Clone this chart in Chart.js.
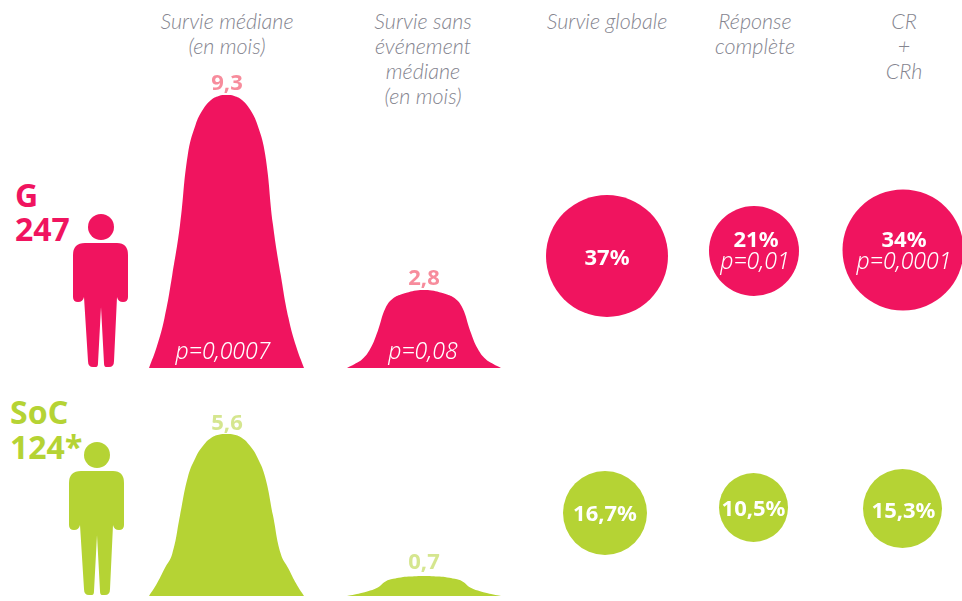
<!DOCTYPE html>
<html lang="fr">
<head>
<meta charset="utf-8">
<title>Survie et réponse</title>
<script src="https://cdn.jsdelivr.net/npm/chart.js@4"></script>
<style>
  html, body { margin: 0; padding: 0; background: #fff; }
  #page { position: relative; width: 962px; height: 601px; overflow: hidden; font-family: "Noto Sans", sans-serif; }
  #page canvas, #page svg { position: absolute; }
  .txt { position: absolute; transform: translate(-50%, -50%); white-space: nowrap; line-height: 1; }
  .head { font-family: "Lato", sans-serif; font-style: italic; font-weight: 300; font-size: 21.5px; color: #85858f; }
  .val { font-weight: 700; font-size: 22px; }
  .pct { font-weight: 700; font-size: 22px; color: #fff; }
  .pv { font-style: italic; font-size: 23px; color: #fff; font-weight: 300; }
  .grp { font-weight: 700; font-size: 32px; transform: translate(0, -50%); }
</style>
</head>
<body>
<div id="page">
  <svg width="0" height="0">
    <symbol id="person" viewBox="0 0 56 154">
      <circle cx="28" cy="13" r="13"/>
      <path d="M12,29 H44 Q55,29 55,41 V83 Q55,88 50,88 Q45,88 44,83 L41,147 Q41,153 36,153 H33 Q31,153 31,149 L28,93 L25,149 Q25,153 23,153 H20 Q15,153 15,147 L11,83 Q10,88 5,88 Q0,88 0,83 V41 Q0,29 12,29 Z"/>
    </symbol>
  </svg>
</div>
<script>
// donnees
const groups = ['G', 'SoC'];
const groupSizes = ['247', '124*'];
const headers = [
  ['Survie médiane', '(en mois)'],
  ['Survie sans', 'événement', 'médiane', '(en mois)'],
  ['Survie globale'],
  ['Réponse', 'complète'],
  ['CR', '+', 'CRh'],
];

const medianOS = [9.3, 5.6];
const medianEFS = [2.8, 0.7];
const overallSurvival = [37, 16.7];
const completeResponse = [21, 10.5];
const crPlusCrh = [34, 15.3];

const pMedianOS = 'p=0,0007';
const pMedianEFS = 'p=0,08';
const pCompleteResponse = 'p=0,01';
const pCrPlusCrh = 'p=0,0001';

// profil des "cloches", en mois
const humpOsG = [0, 0.72, 1.70, 3.17, 4.87, 7.26, 8.28, 8.82, 9.13, 9.27, 9.3, 9.27, 9.13, 8.82, 8.28, 7.26, 4.87, 3.17, 1.70, 0.72, 0];
const humpOsSoc = [0, 0.42, 0.94, 1.46, 2.78, 4.10, 4.78, 5.20, 5.46, 5.57, 5.6, 5.57, 5.46, 5.20, 4.78, 4.10, 2.78, 1.46, 0.94, 0.42, 0];
const humpEfsG = [0, 0.14, 0.32, 0.68, 1.33, 2.15, 2.50, 2.64, 2.72, 2.78, 2.8, 2.78, 2.72, 2.64, 2.50, 2.15, 1.33, 0.68, 0.32, 0.14, 0];
const humpEfsSoc = [0, 0.05, 0.11, 0.19, 0.30, 0.51, 0.60, 0.65, 0.68, 0.695, 0.70, 0.695, 0.68, 0.65, 0.60, 0.51, 0.30, 0.19, 0.11, 0.05, 0];

// mise en page
const PINK = '#f0145f';
const GREEN = '#b5d334';
const PINK_SOFT = '#f78c9c';
const GREEN_SOFT = '#d5e68f';
const humpBoxes = [
  { left: 149, base: 368, w: 155, h: 273 },
  { left: 149, base: 596, w: 155, h: 162 },
  { left: 347, base: 368, w: 154, h: 78 },
  { left: 347, base: 596, w: 154, h: 20 },
];
const page = document.getElementById('page');

const fmt = (v) => String(v).replace('.', ',');

function addText(text, x, y, cls, color) {
  const el = document.createElement('div');
  el.className = 'txt ' + cls;
  el.textContent = text;
  el.style.left = x + 'px';
  el.style.top = y + 'px';
  if (color) el.style.color = color;
  page.appendChild(el);
}

function addCanvas(left, top, w, h) {
  const c = document.createElement('canvas');
  c.width = w;
  c.height = h;
  c.style.left = left + 'px';
  c.style.top = top + 'px';
  page.appendChild(c);
  return c;
}

function addPerson(left, top, color) {
  const svg = document.createElementNS('http://www.w3.org/2000/svg', 'svg');
  svg.setAttribute('width', 56);
  svg.setAttribute('height', 154);
  svg.style.left = left + 'px';
  svg.style.top = top + 'px';
  svg.style.fill = color;
  const use = document.createElementNS('http://www.w3.org/2000/svg', 'use');
  use.setAttribute('href', '#person');
  svg.appendChild(use);
  page.appendChild(svg);
}

function humpChart(box, values, peak, color) {
  const canvas = addCanvas(box.left, box.base - box.h, box.w, box.h);
  new Chart(canvas, {
    type: 'line',
    data: {
      labels: values.map((v, i) => i),
      datasets: [{
        data: values,
        fill: 'origin',
        backgroundColor: color,
        borderWidth: 0,
        pointRadius: 0,
        tension: 0.45,
      }],
    },
    options: {
      responsive: false,
      animation: false,
      layout: { padding: 0 },
      plugins: { legend: { display: false }, tooltip: { enabled: false } },
      scales: {
        x: { display: false, offset: false },
        y: { display: false, min: 0, max: peak },
      },
    },
  });
}

humpChart(humpBoxes[0], humpOsG, medianOS[0], PINK);
humpChart(humpBoxes[1], humpOsSoc, medianOS[1], GREEN);
humpChart(humpBoxes[2], humpEfsG, medianEFS[0], PINK);
humpChart(humpBoxes[3], humpEfsSoc, medianEFS[1], GREEN);

// cercles : une colonne par critere, une ligne par groupe
const COL_0 = 607, COL_W = 148, ROW_0 = 256, ROW_H = 256;
const box = { left: 530, top: 180, w: 432, h: 385 };
const circleRadius = [[61, 45, 60.5], [42, 34.5, 39.5]];
const circleNudge = [[[0, 0], [-1, -5], [0, -6]], [[-2, 1], [-1.5, -4.5], [-0.5, -3.5]]];
const circleSeries = [overallSurvival, completeResponse, crPlusCrh];

function circleData(row) {
  return circleSeries.map((serie, col) => ({
    x: col + circleNudge[row][col][0] / COL_W,
    y: row + circleNudge[row][col][1] / ROW_H,
    r: circleRadius[row][col],
    v: serie[row],
  }));
}

new Chart(addCanvas(box.left, box.top, box.w, box.h), {
  type: 'bubble',
  data: {
    datasets: [
      { label: groups[0], data: circleData(0), backgroundColor: PINK, borderWidth: 0, clip: false },
      { label: groups[1], data: circleData(1), backgroundColor: GREEN, borderWidth: 0, clip: false },
    ],
  },
  options: {
    responsive: false,
    animation: false,
    layout: { padding: 0, autoPadding: false },
    plugins: { legend: { display: false }, tooltip: { enabled: false } },
    scales: {
      x: { display: false, min: (box.left - COL_0) / COL_W, max: (box.left + box.w - COL_0) / COL_W },
      y: { display: false, reverse: true, min: (box.top - ROW_0) / ROW_H, max: (box.top + box.h - ROW_0) / ROW_H },
    },
  },
});

// textes
const headX = [227, 423, 607, 755, 904];
headers.forEach((lines, i) => {
  lines.forEach((line, j) => addText(line, headX[i], 21.5 + j * 25.3, 'head'));
});

addText(groups[0], 15, 195, 'grp', PINK);
addText(groupSizes[0], 15, 229, 'grp', PINK);
addText(groups[1], 10, 412, 'grp', GREEN);
addText(groupSizes[1], 10, 447, 'grp', GREEN);
addPerson(73, 214, PINK);
addPerson(69, 442, GREEN);

addText(fmt(medianOS[0]), 227, 81, 'val', PINK_SOFT);
addText(fmt(medianOS[1]), 227, 421, 'val', GREEN_SOFT);
addText(fmt(medianEFS[0]), 424, 276, 'val', PINK_SOFT);
addText(fmt(medianEFS[1]), 424, 560, 'val', GREEN_SOFT);
addText(pMedianOS, 223, 350, 'pv');
addText(pMedianEFS, 423, 350, 'pv');

addText(overallSurvival[0] + '%', 607, 256, 'pct');
addText(completeResponse[0] + '%', 756, 238, 'pct');
addText(pCompleteResponse, 755, 260, 'pv');
addText(crPlusCrh[0] + '%', 904, 238, 'pct');
addText(pCrPlusCrh, 904, 260, 'pv');
addText(fmt(overallSurvival[1]) + '%', 605, 512, 'pct');
addText(fmt(completeResponse[1]) + '%', 753.5, 507, 'pct');
addText(fmt(crPlusCrh[1]) + '%', 903.5, 509, 'pct');
</script>
</body>
</html>
